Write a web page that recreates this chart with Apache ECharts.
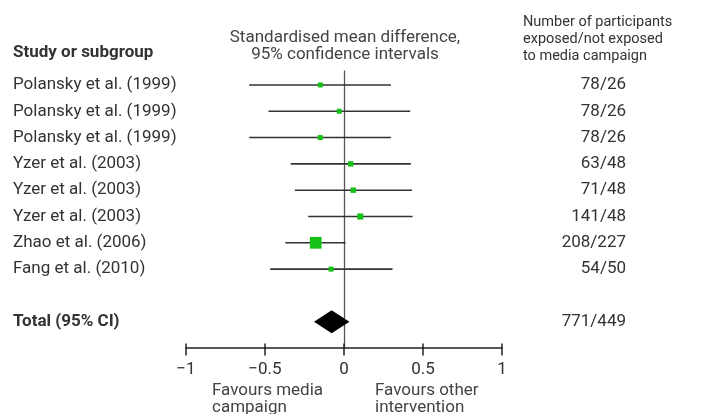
<!DOCTYPE html>
<html><head><meta charset="utf-8">
<script src="https://cdn.jsdelivr.net/npm/echarts@6/dist/echarts.min.js"></script>
<style>html,body{margin:0;padding:0;background:#fff}#c{width:717px;height:414px}</style>
</head><body><div id="c"></div>
<script>
// ---- data ----
const studies = ['Polansky et al. (1999)', 'Polansky et al. (1999)', 'Polansky et al. (1999)',
  'Yzer et al. (2003)', 'Yzer et al. (2003)', 'Yzer et al. (2003)',
  'Zhao et al. (2006)', 'Fang et al. (2010)'];
const estimates = [-0.15, -0.03, -0.15, 0.042, 0.059, 0.103, -0.179, -0.082];
const lowerCI = [-0.60, -0.478, -0.60, -0.337, -0.311, -0.227, -0.371, -0.467];
const upperCI = [0.297, 0.419, 0.297, 0.423, 0.430, 0.434, 0.010, 0.307];
const weights = [6, 6, 6, 7, 7, 9, 33, 6];
const participants = ['78/26', '78/26', '78/26', '63/48', '71/48', '141/48', '208/227', '54/50'];
const totalLabel = 'Total (95% CI)';
const totalEstimate = [-0.078];
const totalLower = [-0.19];
const totalUpper = [0.034];
const totalParticipants = '771/449';
const xTicks = [-1, -0.5, 0, 0.5, 1];

const FONT = 'Roboto';
const FS = 17;
const TXT = '#333';
const chart = echarts.init(document.getElementById('c'));

const rowData = studies.map((s, i) => [i, estimates[i], lowerCI[i], upperCI[i], weights[i]]);
const totalRow = studies.length + 1;

const option = {
  animation: false,
  grid: { left: 186, width: 316, top: 71, height: 276.5 },
  xAxis: [{
    type: 'value', min: xTicks[0], max: xTicks[xTicks.length - 1], interval: 0.5,
    position: 'bottom',
    axisLine: { show: true, onZero: false, lineStyle: { color: '#222', width: 1.5 } },
    axisTick: { show: true, length: 8, lineStyle: { color: '#222', width: 1.5 } },
    axisLabel: { margin: 14, color: TXT, fontSize: FS, fontFamily: FONT,
      formatter: v => String(v).replace('-', '\u2212') },
    splitLine: { show: false }
  }, {
    type: 'value', min: xTicks[0], max: xTicks[xTicks.length - 1], interval: 0.5,
    position: 'bottom',
    axisLine: { show: false, onZero: false },
    axisTick: { show: true, inside: true, length: 4, lineStyle: { color: '#222', width: 1.5 } },
    axisLabel: { show: false },
    splitLine: { show: false }
  }],
  yAxis: {
    type: 'value', inverse: true, min: -0.53, max: 9.98,
    axisLine: { show: true, onZero: true, lineStyle: { color: '#555', width: 1.3 } },
    axisTick: { show: false }, axisLabel: { show: false }, splitLine: { show: false }
  },
  graphic: [
    { type: 'text', x: 13, y: 53, style: { text: 'Study or subgroup', font: 'bold ' + FS + 'px ' + FONT, fill: TXT, verticalAlign: 'middle' } },
    { type: 'text', x: 345, y: 29.5, style: { text: 'Standardised mean difference,\n95% confidence intervals',
      font: FS + 'px ' + FONT, fill: '#444', align: 'center', lineHeight: 17 } },
    { type: 'text', x: 523, y: 14, style: { text: 'Number of participants\nexposed/not exposed\nto media campaign',
      font: '14.5px ' + FONT, fill: TXT, lineHeight: 17 } },
    { type: 'text', x: 212, y: 382, style: { text: 'Favours media\ncampaign', font: FS + 'px ' + FONT, fill: '#444', lineHeight: 17 } },
    { type: 'text', x: 375, y: 382, style: { text: 'Favours other\nintervention', font: FS + 'px ' + FONT, fill: '#444', lineHeight: 17 } }
  ],
  series: [{
    type: 'custom',
    xAxisIndex: 0,
    data: rowData,
    renderItem: (params, api) => {
      const i = api.value(0);
      const p = api.coord([api.value(1), i]);
      const l = api.coord([api.value(2), i]);
      const h = api.coord([api.value(3), i]);
      const s = Math.sqrt(api.value(4)) * 2.04;
      return { type: 'group', children: [
        { type: 'line', shape: { x1: l[0], y1: l[1], x2: h[0], y2: h[1] }, style: { stroke: '#333', lineWidth: 1.6 } },
        { type: 'rect', shape: { x: p[0] - s / 2, y: p[1] - s / 2, width: s, height: s }, style: { fill: '#14c014' } },
        { type: 'text', x: 13, y: p[1], style: { text: studies[params.dataIndex], font: FS + 'px ' + FONT, fill: TXT, verticalAlign: 'middle' } },
        { type: 'text', x: 626, y: p[1], style: { text: participants[params.dataIndex], font: FS + 'px ' + FONT, fill: TXT, align: 'right', verticalAlign: 'middle' } }
      ] };
    }
  }, {
    type: 'custom',
    xAxisIndex: 0,
    data: [[totalRow, totalEstimate[0], totalLower[0], totalUpper[0]]],
    renderItem: (params, api) => {
      const i = api.value(0);
      const c = api.coord([api.value(1), i]);
      const l = api.coord([api.value(2), i]);
      const h = api.coord([api.value(3), i]);
      const hh = 11.5;
      return { type: 'group', children: [
        { type: 'polygon', shape: { points: [[l[0], c[1]], [c[0], c[1] - hh], [h[0], c[1]], [c[0], c[1] + hh]] }, style: { fill: '#000' } },
        { type: 'text', x: 13, y: c[1], style: { text: totalLabel, font: 'bold ' + FS + 'px ' + FONT, fill: TXT, verticalAlign: 'middle' } },
        { type: 'text', x: 626, y: c[1], style: { text: totalParticipants, font: FS + 'px ' + FONT, fill: TXT, align: 'right', verticalAlign: 'middle' } }
      ] };
    }
  }]
};
chart.setOption(option);
</script></body></html>
